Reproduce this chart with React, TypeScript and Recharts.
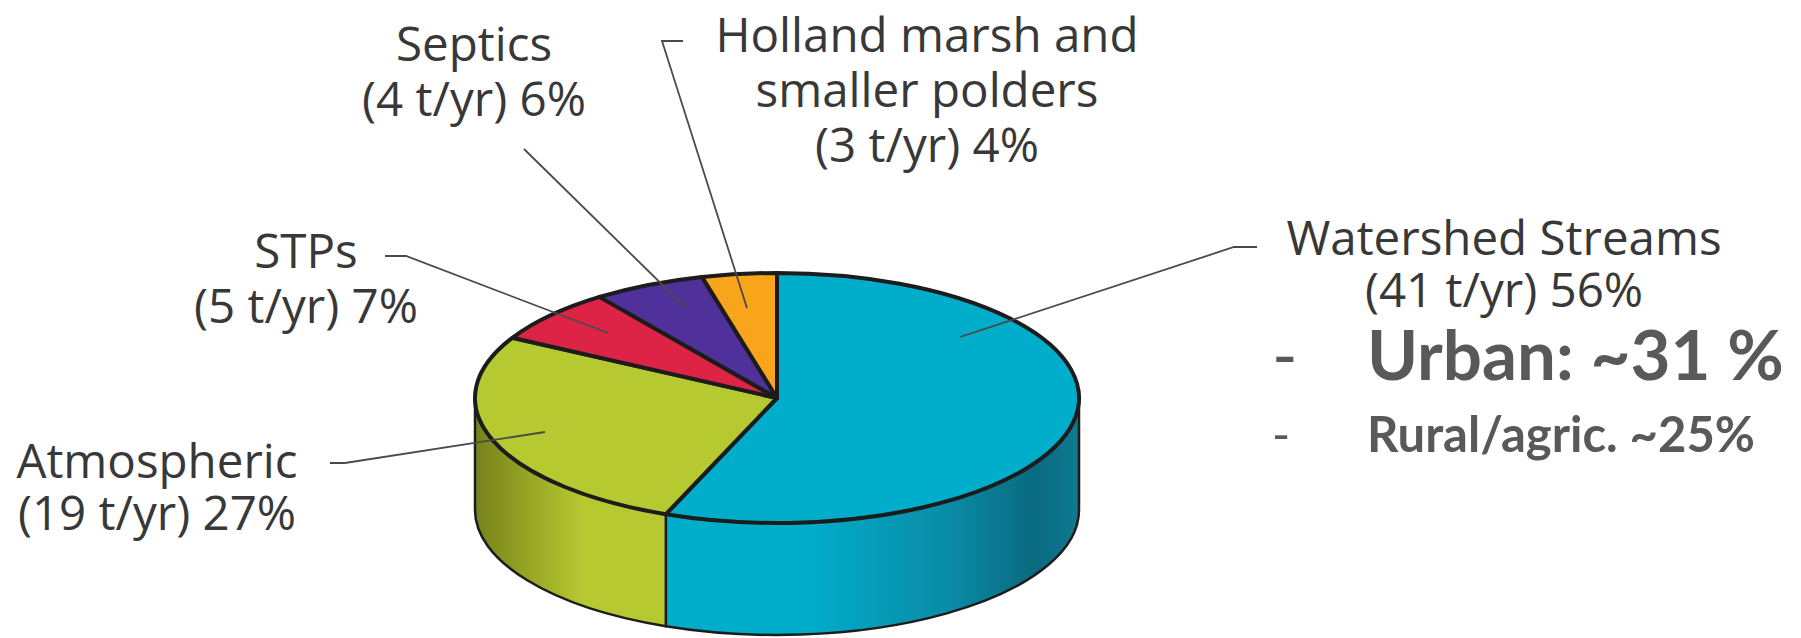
import { Cell, Pie, PieChart } from 'recharts'

const sliceNames = [
  ['Watershed Streams'],
  ['Atmospheric'],
  ['STPs'],
  ['Septics'],
  ['Holland marsh and', 'smaller polders'],
]
const sliceLoads = [41, 19, 5, 4, 3]
const sliceShares = [56, 27, 7, 6, 4]

const topColors = ['#00aecb', '#b7c931', '#dd2346', '#50309a', '#f9a51c']
const wallColors = ['url(#wallTeal)', 'url(#wallGreen)', '#dd2346', '#50309a', '#f9a51c']

const data = sliceNames.map((name, i) => ({
  name: name.join(' '),
  lines: [...name, `(${sliceLoads[i]} t/yr) ${sliceShares[i]}%`],
  share: sliceShares[i],
}))

const WIDTH = 1801
const HEIGHT = 638
const CX = 777
const CY = 398
const RX = 302
const RY = 125
const DEPTH = 112

const INK = '#383838'
const EDGE = '#1c1c1c'
const FONT = '"Open Sans", sans-serif'

// label anchor (text centre, first baseline) and leader polyline for each slice
const labelCenters = [
  [1504, 255],
  [157, 478],
  [306, 268],
  [474, 61],
  [927, 52],
]
const lineGaps = [52, 52, 55, 55, 55]
const leaders = [
  '1257,247 1234,247 960,337',
  '330,463 345,463 545,432',
  '385,256 406,256 608,333',
  '524,149 686,308',
  '683,41 662,41 747,308',
]

const point = (deg: number, dy = 0) => {
  const a = (deg * Math.PI) / 180
  return [CX + RX * Math.cos(a), CY - RY * Math.sin(a) + dy]
}

// top face of a slice, squashed to an ellipse
function TopSector(props: any) {
  const { startAngle, endAngle, fill } = props
  const [x1, y1] = point(startAngle)
  const [x2, y2] = point(endAngle)
  const large = Math.abs(startAngle - endAngle) > 180 ? 1 : 0
  const sweep = startAngle > endAngle ? 1 : 0
  const d = `M${CX},${CY} L${x1},${y1} A${RX},${RY} 0 ${large} ${sweep} ${x2},${y2} Z`
  return <path d={d} fill={fill} stroke={EDGE} strokeWidth={4} strokeLinejoin="round" />
}

// side wall, only the part that faces the viewer (angles below the horizon)
function WallSector(props: any) {
  const { startAngle, endAngle, fill } = props
  const hi = Math.max(startAngle, endAngle)
  const lo = Math.min(startAngle, endAngle)
  if (hi <= -180 || lo >= 0) return null
  const from = Math.min(hi, 0)
  const to = Math.max(lo, -180)
  const [x1, y1] = point(from)
  const [x2, y2] = point(to)
  const d =
    `M${x1},${y1} A${RX},${RY} 0 0 1 ${x2},${y2} ` +
    `L${x2},${y2 + DEPTH} A${RX},${RY} 0 0 0 ${x1},${y1 + DEPTH} Z`
  return <path d={d} fill={fill} stroke={EDGE} strokeWidth={2.5} strokeLinejoin="round" />
}

function SliceLabel(props: any) {
  const { index } = props
  const [x, y] = labelCenters[index]
  return (
    <g>
      <polyline points={leaders[index]} fill="none" stroke="#4a4a4a" strokeWidth={1.8} />
      <text x={x} y={y} textAnchor="middle" fontFamily={FONT} fontSize={47.5} fill={INK}>
        {data[index].lines.map((line, i) => (
          <tspan key={line} x={x} y={y + i * lineGaps[index]}>
            {line}
          </tspan>
        ))}
      </text>
    </g>
  )
}

export default function App() {
  return (
    <div style={{ position: 'absolute', left: 0, top: 0, width: WIDTH, height: HEIGHT, background: '#fff' }}>
      <PieChart width={WIDTH} height={HEIGHT} margin={{ top: 0, right: 0, bottom: 0, left: 0 }}>
        <defs>
          <linearGradient id="wallTeal" gradientUnits="userSpaceOnUse" x1={620} x2={1080} y1={0} y2={0}>
            <stop offset="0.4" stopColor="#00aecb" />
            <stop offset="0.72" stopColor="#0a8aa5" />
            <stop offset="0.9" stopColor="#0a6a80" />
            <stop offset="1" stopColor="#0e7a90" />
          </linearGradient>
          <linearGradient id="wallGreen" gradientUnits="userSpaceOnUse" x1={475} x2={620} y1={0} y2={0}>
            <stop offset="0" stopColor="#76821a" />
            <stop offset="0.75" stopColor="#b7c931" />
            <stop offset="1" stopColor="#b7c931" />
          </linearGradient>
        </defs>
        <Pie
          data={data}
          dataKey="share"
          cx={CX}
          cy={CY}
          outerRadius={RX}
          startAngle={90}
          endAngle={-270}
          stroke="none"
          shape={WallSector}
          isAnimationActive={false}
        >
          {data.map((d, i) => (
            <Cell key={d.name} fill={wallColors[i]} />
          ))}
        </Pie>
        <Pie
          data={data}
          dataKey="share"
          cx={CX}
          cy={CY}
          outerRadius={RX}
          startAngle={90}
          endAngle={-270}
          stroke="none"
          shape={TopSector}
          label={SliceLabel}
          labelLine={false}
          isAnimationActive={false}
        >
          {data.map((d, i) => (
            <Cell key={d.name} fill={topColors[i]} />
          ))}
        </Pie>
        <text x={1272} y={380} fontFamily="Lato, sans-serif" fontSize={69} fill="#595959">-</text>
        <text x={1367} y={380} fontFamily="Lato, sans-serif" fontWeight={700} fontSize={69} fill="#595959">
          Urban: ~31 %
        </text>
        <text x={1272} y={452} fontFamily="Lato, sans-serif" fontSize={49} fill="#595959">-</text>
        <text x={1367} y={452} fontFamily="Lato, sans-serif" fontWeight={700} fontSize={49} fill="#595959">
          Rural/agric. ~25%
        </text>
      </PieChart>
    </div>
  )
}
